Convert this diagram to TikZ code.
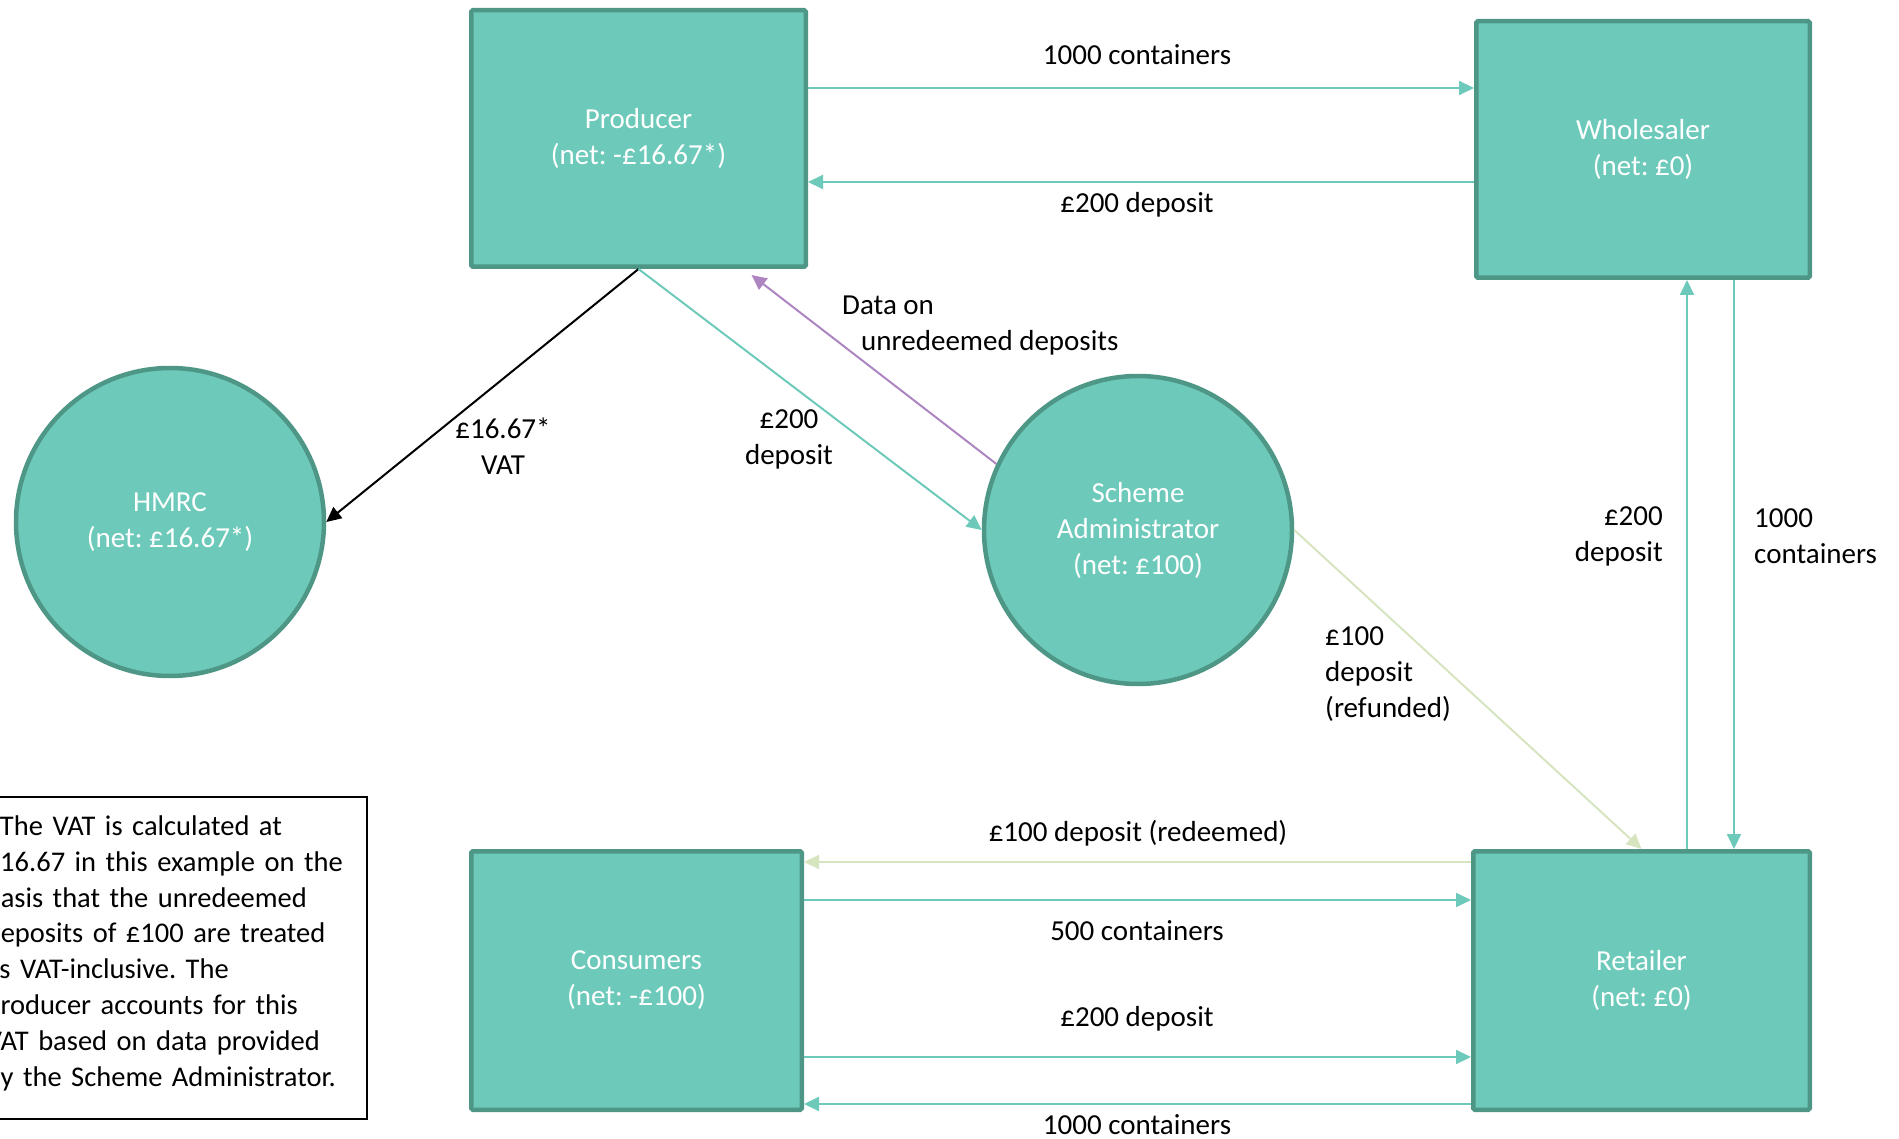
\documentclass[tikz,border=0pt]{standalone}
\usepackage{fontspec}
\setmainfont{Carlito}
\usetikzlibrary{arrows.meta}
\definecolor{boxfill}{HTML}{6DCABA}
\definecolor{boxline}{HTML}{4E9686}
\definecolor{flowteal}{HTML}{6DCABA}
\definecolor{flowgreen}{HTML}{D6E4C0}
\definecolor{flowpurple}{HTML}{AD86C1}
\frenchspacing

\begin{document}
\begin{tikzpicture}[x=1pt, y=-1pt,
    every node/.style={font=\fontsize{29}{36}\selectfont, align=center},
    party/.style={rectangle, draw=boxline, fill=boxfill, line width=4.5pt,
      rounded corners=1.5pt, text=white, minimum width=334pt, minimum height=257pt},
    agency/.style={circle, draw=boxline, fill=boxfill, line width=4.5pt,
      text=white, minimum size=308pt},
    flow/.style={line width=2pt, -{Triangle[length=15pt, width=14pt]}},
    lbl/.style={inner sep=0pt},
    notebox/.style={align=left, text width=369pt,
      font=\fontsize{28.5}{35.8}\selectfont, inner xsep=12pt}
    ]
    \useasboundingbox (0,0) rectangle (1899,1139);

    % the five parties
    \node[party, minimum width=334.5pt, minimum height=256.5pt] (producer) at (638.5,138.5)
      {Producer\\(net: -£16.67*)};
    \node[party, minimum width=333.5pt, minimum height=256.5pt] (wholesaler) at (1643,149.5)
      {Wholesaler\\(net: £0)};
    \node[party, minimum width=330.5pt, minimum height=258.5pt] (consumers) at (636.5,980.5)
      {Consumers\\(net: -£100)};
    \node[party, minimum width=336.5pt, minimum height=258.5pt] (retailer) at (1641.5,980.5)
      {Retailer\\(net: £0)};
    \node[agency] (hmrc) at (170,522) {HMRC\\(net: £16.67*)};
    \node[agency] (sa) at (1138,530) {Scheme\\Administrator\\(net: £100)};

    % producer <-> wholesaler
    \draw[flow, flowteal] ([yshift=50.5pt]producer.east) -- ([yshift=61.5pt]wholesaler.west);
    \draw[flow, flowteal] ([yshift=-32.5pt]wholesaler.west) -- ([yshift=-43.5pt]producer.east);
    \node[lbl] (l-ship) at (1137,55) {1000 containers};
    \node[lbl] (l-pay) at (1137,205) {£200 deposit};

    % producer, hmrc and scheme administrator
    \draw[flow, black] (producer.south) -- (hmrc.east);
    \draw[flow, flowteal] (producer.south) -- (sa.west);
    \draw[flow, flowpurple] (sa.155) -- ([xshift=113pt, yshift=-6pt]producer.south);
    \draw[flow, flowgreen] (sa.east) -- (retailer.north);
    \node[lbl] (l-vat) at (503,446) {£16.67*\\VAT};
    \node[lbl] (l-levy) at (789,439) {£200\\deposit};
    \node[lbl, anchor=west, align=left] (l-data) at (842,326)
      {Data on\\\hspace{19pt}unredeemed deposits};
    \node[lbl, anchor=west, align=left] (l-refund) at (1325,674)
      {£100\\deposit\\(refunded)};

    % wholesaler <-> retailer
    \draw[flow, flowteal] ([xshift=45.5pt]retailer.north)
      -- ([xshift=45.5pt]retailer.north |- wholesaler.south);
    \draw[flow, flowteal] ([xshift=92.5pt]retailer.north |- wholesaler.south)
      -- ([xshift=92.5pt]retailer.north);
    \node[lbl, anchor=east, align=right] (l-up) at (1663,536) {£200\\deposit};
    \node[lbl, anchor=west, align=left] (l-down) at (1754,536) {1000\\containers};

    % retailer <-> consumers
    \draw[flow, flowgreen] ([yshift=118.5pt]retailer.west) -- ([yshift=118.5pt]consumers.east);
    \draw[flow, flowteal] ([yshift=80.5pt]consumers.east) -- ([yshift=80.5pt]retailer.west);
    \draw[flow, flowteal] ([yshift=-76.5pt]consumers.east) -- ([yshift=-76.5pt]retailer.west);
    \draw[flow, flowteal] ([yshift=-123.5pt]retailer.west) -- ([yshift=-123.5pt]consumers.east);
    \node[lbl] (l-redeem) at (1138,833) {£100 deposit (redeemed)};
    \node[lbl] (l-sold) at (1137,931) {500 containers};
    \node[lbl] (l-buy) at (1137,1019) {£200 deposit};
    \node[lbl] (l-stock) at (1137,1125) {1000 containers};

    % footnote
    \draw[line width=2pt] (-30,797) rectangle (367,1119);
    \node[notebox, anchor=east] (note) at (367,953)
      {*The VAT is calculated at\\£16.67 in this example on the\\basis that the unredeemed\\
       deposits of £100 are treated\\as VAT-inclusive. The\\Producer accounts for this\\
       VAT based on data provided\\by the Scheme Administrator.};
\end{tikzpicture}
\end{document}
